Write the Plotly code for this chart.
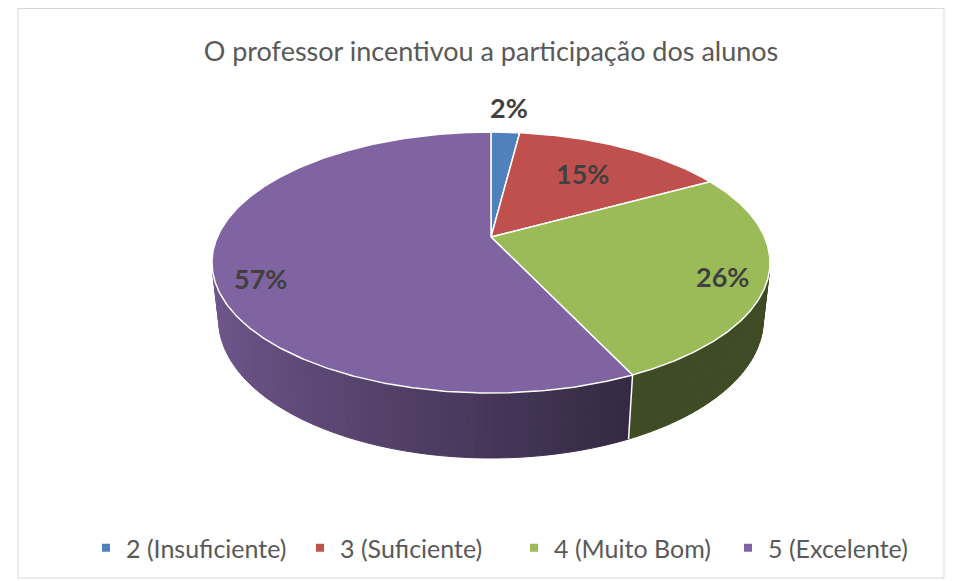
import numpy as np
import plotly.graph_objects as go

# ---------------- data ----------------
categories = ["2 (Insuficiente)", "3 (Suficiente)", "4 (Muito Bom)", "5 (Excelente)"]
values = [2, 15, 26, 57]
value_labels = ["2%", "15%", "26%", "57%"]
chart_title = "O professor incentivou a participação dos alunos"

# ---------------- style ----------------
colors = ["#4F81BD", "#C0504D", "#9BBB59", "#8064A2"]
W, H = 958, 581
OFF = 8                    # page body margin; axes are expressed in page pixels
CX, CY = 491, 237          # projected pie centre (page pixels)
FOCAL = 1243.7             # projection scale
DIST = 4.545               # camera distance (in pie radii)
PHI = np.radians(27.3)     # camera elevation
THICK = 0.2367             # pie thickness (in radii)
S, C = np.sin(PHI), np.cos(PHI)
LABEL_R = [1.3, 0.68, 0.85, 0.85]
LABEL_SHIFT = [(0, 0), (-3, 0), (-2, 5), (5, 17)]
FONT = "Lato"


def px_x(p):
    return (p - OFF) / W


def px_y(p):
    return 1 - (p - OFF) / H


def proj(alpha_deg, r=1.0, h=0.0):
    a = np.radians(alpha_deg)
    u = r * np.sin(a)
    v = r * np.cos(a)
    yc = v * S + h * C
    d = DIST + v * C - h * S
    return CX + FOCAL * u / d, CY - FOCAL * yc / d


def shade(hex_color, alpha_deg):
    u = np.sin(np.radians(alpha_deg))
    f = float(np.clip(0.86 - (u + 0.97) / 1.42 * 0.46, 0.40, 0.86))
    r = int(hex_color[1:3], 16); g = int(hex_color[3:5], 16); b = int(hex_color[5:7], 16)
    return "rgb(%d,%d,%d)" % (round(r * f), round(g * f), round(b * f))


total = float(sum(values))
bounds = np.concatenate([[0.0], np.cumsum(values) / total * 360.0])

# visible range of the cylinder side
v_t = -1.0 / (DIST * C)
a_vis0 = np.degrees(np.arccos(v_t))
a_vis1 = 360.0 - a_vis0

fig = go.Figure()

# ---- side faces (gradient strips) ----
for i in range(len(values)):
    a0 = max(bounds[i], a_vis0)
    a1 = min(bounds[i + 1], a_vis1)
    if a1 <= a0:
        continue
    n = max(1, int(np.ceil((a1 - a0) / 1.5)))
    edges = np.linspace(a0, a1, n + 1)
    for k in range(n):
        arc = np.linspace(edges[k], edges[k + 1], 4)
        xt, yt = proj(arc, 1.0, 0.0)
        xb, yb = proj(arc[::-1], 1.0, -THICK)
        xs = np.concatenate([xt, xb, xt[:1]])
        ys = np.concatenate([yt, yb, yt[:1]])
        col = shade(colors[i], (edges[k] + edges[k + 1]) / 2)
        fig.add_trace(go.Scatter(x=xs, y=ys, mode="lines", fill="toself",
                                 fillcolor=col, line=dict(color=col, width=1),
                                 hoverinfo="skip", showlegend=False))

# white separators on the side between slices
for i in range(1, len(values)):
    a = bounds[i]
    if a_vis0 < a < a_vis1:
        x1, y1 = proj(a, 1.0, 0.0)
        x2, y2 = proj(a, 1.0, -THICK)
        fig.add_trace(go.Scatter(x=[x1, x2], y=[y1, y2], mode="lines",
                                 line=dict(color="white", width=1.5),
                                 hoverinfo="skip", showlegend=False))

# ---- top face slices ----
for i in range(len(values)):
    arc = np.linspace(bounds[i], bounds[i + 1], max(3, int((bounds[i + 1] - bounds[i]) * 2)))
    xa, ya = proj(arc)
    xs = np.concatenate([[CX], xa, [CX]])
    ys = np.concatenate([[CY], ya, [CY]])
    fig.add_trace(go.Scatter(x=xs, y=ys, mode="lines", fill="toself",
                             fillcolor=colors[i], line=dict(color="white", width=1.5),
                             hoverinfo="skip", showlegend=False))

# ---- legend entries ----
for i, cat in enumerate(categories):
    fig.add_trace(go.Scatter(x=[None], y=[None], mode="markers", name=cat,
                             marker=dict(symbol="square", size=8, color=colors[i])))

# ---- data labels ----
for i in range(len(values)):
    mid = (bounds[i] + bounds[i + 1]) / 2
    lx, ly = proj(mid, LABEL_R[i])
    dx, dy = LABEL_SHIFT[i]
    fig.add_annotation(x=float(lx) + dx, y=float(ly) + dy, text="<b>%s</b>" % value_labels[i],
                       showarrow=False, xanchor="center", yanchor="middle",
                       font=dict(family=FONT, size=27, color="#404040"))

# chart border
fig.add_shape(type="rect", xref="x", yref="y", x0=18, x1=944, y0=8.5, y1=578,
              line=dict(color="#D9D9D9", width=1), fillcolor="rgba(0,0,0,0)", layer="below")

fig.update_layout(
    width=W, height=H,
    margin=dict(l=0, r=0, t=0, b=0),
    paper_bgcolor="white", plot_bgcolor="white",
    xaxis=dict(range=[OFF, W + OFF], visible=False, fixedrange=True),
    yaxis=dict(range=[H + OFF, OFF], visible=False, fixedrange=True),
    title=dict(text=chart_title, x=px_x(491), xanchor="center", y=px_y(52), yanchor="middle",
               font=dict(family=FONT, size=27, color="#595959")),
    legend=dict(orientation="h", x=px_x(86), xanchor="left", y=px_y(548), yanchor="middle",
                font=dict(family=FONT, size=25, color="#595959"), itemwidth=30,
                entrywidth=169, entrywidthmode="pixels",
                bgcolor="rgba(0,0,0,0)"),
    showlegend=True,
)

fig.write_html("out.html")
